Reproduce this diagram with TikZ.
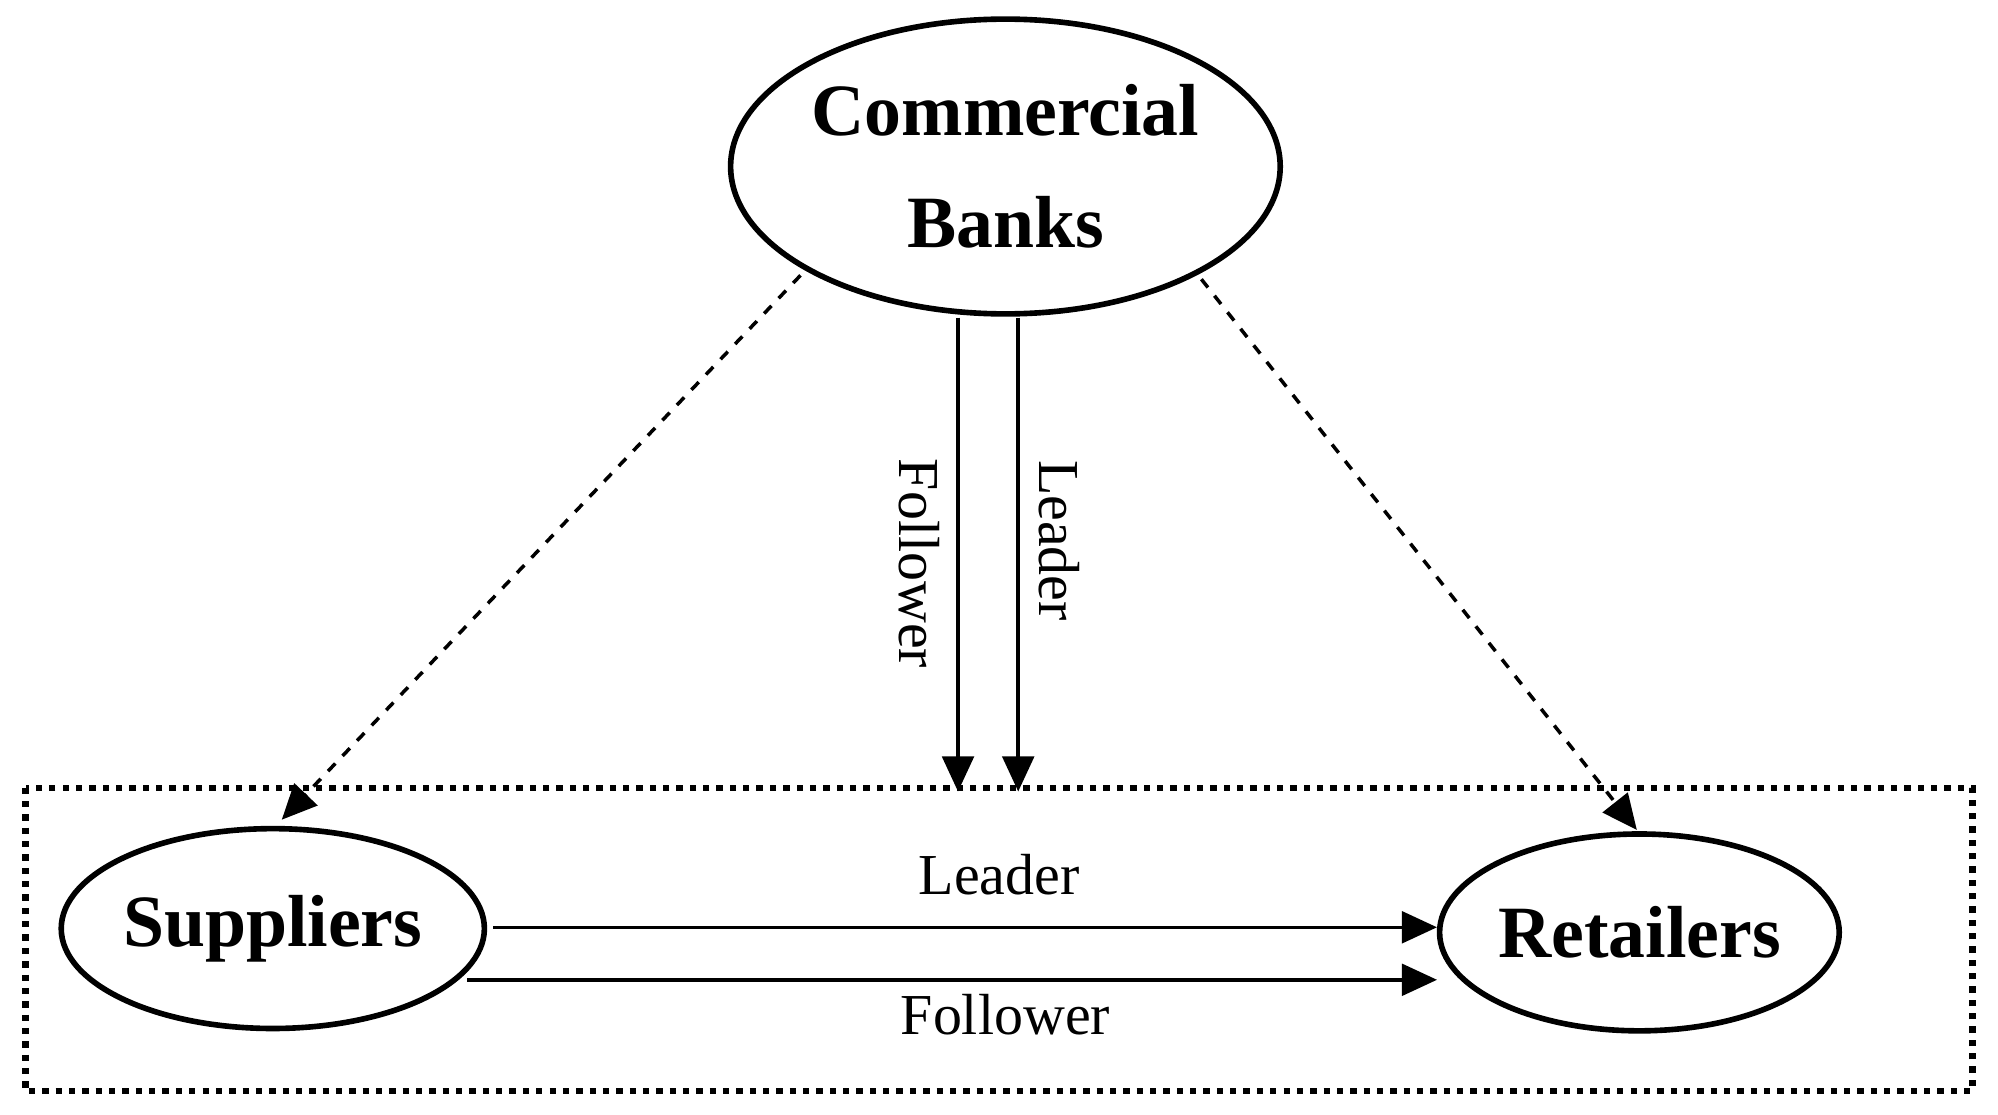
\documentclass[tikz,border=0pt]{standalone}
\usepackage{fontspec}
\setmainfont{Liberation Serif}
\usetikzlibrary{shapes.geometric,arrows.meta}
\begin{document}
\begin{tikzpicture}[x=0.01282cm,y=-0.01282cm]
\tikzset{agent/.style = {shape=ellipse,draw,line width=1.6pt,inner sep=0pt,font=\fontsize{21}{28}\selectfont\bfseries,align=center}}
\tikzset{edge/.style = {-{Triangle[length=10pt,width=9pt]},line width=1pt}}
\tikzset{link/.style = {edge,dashed}}
\tikzset{tag/.style = {font=\fontsize{16.5}{20}\selectfont}}
\useasboundingbox (0,0) rectangle (1560,870);
% vertices
\node[agent,minimum width=5.5cm,minimum height=2.95cm] (bank) at (785,130) {Commercial\\[4pt]Banks};
\node[agent,minimum width=4.2cm,minimum height=2.0cm] (sup) at (213,725) {Suppliers};
\node[agent,minimum width=3.95cm,minimum height=1.97cm] (ret) at (1280,728) {Retailers};
\draw[dotted,line width=1.8pt] (20,615) rectangle (1540,852);
% end points
\coordinate (d1) at (625,215); \coordinate (d2) at (938,218);
\coordinate (t1) at (220,640); \coordinate (t2) at (1278,648);
\coordinate (b1) at (748,248); \coordinate (e1) at (748,618);
\coordinate (b2) at (795,248); \coordinate (e2) at (795,618);
\coordinate (s1) at (385,724); \coordinate (r1) at (1122,724);
\coordinate (s2) at (365,765); \coordinate (r2) at (1122,765);
%edges
\draw[link] (d1) to (t1);
\draw[link] (d2) to (t2);
\draw[edge] (b1) to (e1);
\draw[edge] (b2) to (e2);
\draw[edge] (s1) to (r1);
\draw[edge] (s2) to (r2);
% labels
\node[tag,rotate=-90] (fl) at (718,440) {Follower};
\node[tag,rotate=-90] (ld) at (827,422) {Leader};
\node[tag] (lh) at (780,683) {Leader};
\node[tag] (fh) at (785,792) {Follower};
\end{tikzpicture}
\end{document}
